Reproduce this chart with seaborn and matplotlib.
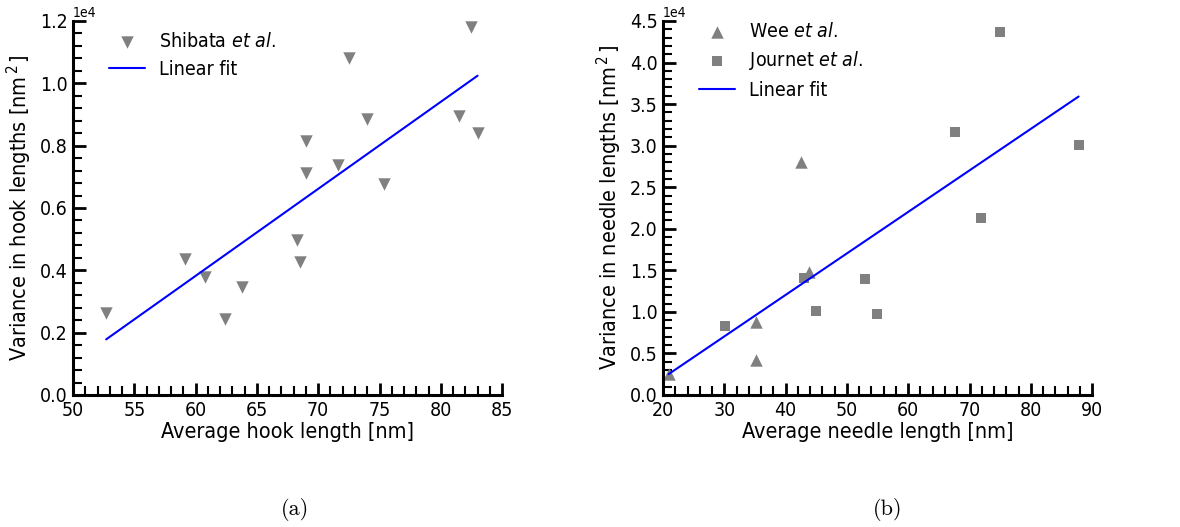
import numpy as np
import pandas as pd
import matplotlib
matplotlib.use("Agg")
import matplotlib.pyplot as plt
from matplotlib.ticker import AutoMinorLocator, MultipleLocator
import seaborn as sns

# ---- data ----
hook_len = [52.7, 59.1, 60.8, 62.4, 63.8, 68.3, 68.5, 69.0, 69.0, 71.6, 72.5, 74.0, 75.4, 81.5, 82.5, 83.0]
hook_var = [2620, 4350, 3800, 2430, 3480, 4970, 4270, 8150, 7130, 7370, 10800, 8850, 6770, 8950, 11820, 8420]

wee_len = [20.9, 35.1, 35.1, 42.5, 43.8]
wee_var = [2500, 8820, 4210, 28030, 14840]

journet_len = [30.1, 43.0, 45.0, 52.9, 54.9, 67.6, 71.8, 74.9, 87.8]
journet_var = [8300, 14040, 10110, 13920, 9750, 31690, 21260, 43640, 30080]

sns.set_style("ticks")
plt.rcParams['font.family'] = ['DejaVu Sans']
plt.rcParams['font.stretch'] = 'condensed'
plt.rcParams['mathtext.fontset'] = 'dejavusans'
plt.rcParams['text.color'] = 'black'
plt.rcParams['axes.labelcolor'] = 'black'
plt.rcParams['axes.edgecolor'] = 'black'
plt.rcParams['xtick.color'] = 'black'
plt.rcParams['ytick.color'] = 'black'

fig = plt.figure(figsize=(11.8, 5.27), dpi=100)
ax1 = fig.add_axes([0.0619, 0.2505, 0.3636, 0.7097])
ax2 = fig.add_axes([0.5619, 0.2505, 0.3636, 0.7097])

marker_col = '#808080'


def fit_line(x, y, ax):
    x = np.asarray(x, float)
    y = np.asarray(y, float)
    k, b = np.polyfit(x, y, 1)
    xs = np.array([x.min(), x.max()])
    sns.lineplot(x=xs, y=k * xs + b, color='blue', lw=1.5, ax=ax, label='Linear fit')


# Left panel
sns.scatterplot(x=hook_len, y=hook_var, marker='v', s=80, color=marker_col,
                linewidth=0, ax=ax1, label=r'Shibata $\it{et\ al}$.')
fit_line(hook_len, hook_var, ax1)
ax1.set_xlim(50, 85)
ax1.set_ylim(0, 12000)
ax1.xaxis.set_major_locator(MultipleLocator(5))
ax1.yaxis.set_major_locator(MultipleLocator(2000))
ax1.set_xlabel('Average hook length [nm]')
ax1.set_ylabel(r'Variance in hook lengths [nm$^{\,2\,}$]')

# Right panel
sns.scatterplot(x=wee_len, y=wee_var, marker='^', s=80, color=marker_col,
                linewidth=0, ax=ax2, label=r'Wee $\it{et\ al}$.')
sns.scatterplot(x=journet_len, y=journet_var, marker='s', s=55, color=marker_col,
                linewidth=0, ax=ax2, label=r'Journet $\it{et\ al}$.')
fit_line(wee_len + journet_len, wee_var + journet_var, ax2)
ax2.set_xlim(20, 90)
ax2.set_ylim(0, 45000)
ax2.xaxis.set_major_locator(MultipleLocator(10))
ax2.yaxis.set_major_locator(MultipleLocator(5000))
ax2.set_xlabel('Average needle length [nm]')
ax2.set_ylabel(r'Variance in needle lengths [nm$^{\,2\,}$]')

for ax in (ax1, ax2):
    ax.ticklabel_format(axis='y', style='sci', scilimits=(0, 0))
    ax.yaxis.get_offset_text().set_fontsize(10)
    ax.xaxis.set_minor_locator(AutoMinorLocator(5))
    ax.yaxis.set_minor_locator(AutoMinorLocator(5))
    for side in ('top', 'right'):
        ax.spines[side].set_visible(False)
    for side in ('left', 'bottom'):
        ax.spines[side].set_linewidth(2.2)
    ax.tick_params(which='major', direction='in', length=9, width=2, labelsize=14, pad=4)
    ax.tick_params(which='minor', direction='in', length=6.5, width=1.5)
    ax.xaxis.label.set_size(15.5)
    ax.yaxis.label.set_size(15.5)
    ax.xaxis.labelpad = 2
    ax.yaxis.labelpad = 4

leg_kw = dict(loc='upper left', frameon=False, fontsize=14, scatterpoints=1,
              handlelength=1.85, handletextpad=0.7, labelspacing=0.45)
ax1.legend(bbox_to_anchor=(0.044, 1.016), **leg_kw)
ax2.legend(bbox_to_anchor=(0.044, 1.045), **leg_kw)

fig.text(0.25, 0.022, '(a)', fontfamily='cmr10', fontsize=16, ha='center')
fig.text(0.752, 0.022, '(b)', fontfamily='cmr10', fontsize=16, ha='center')

fig.savefig('out.png', dpi=100)
